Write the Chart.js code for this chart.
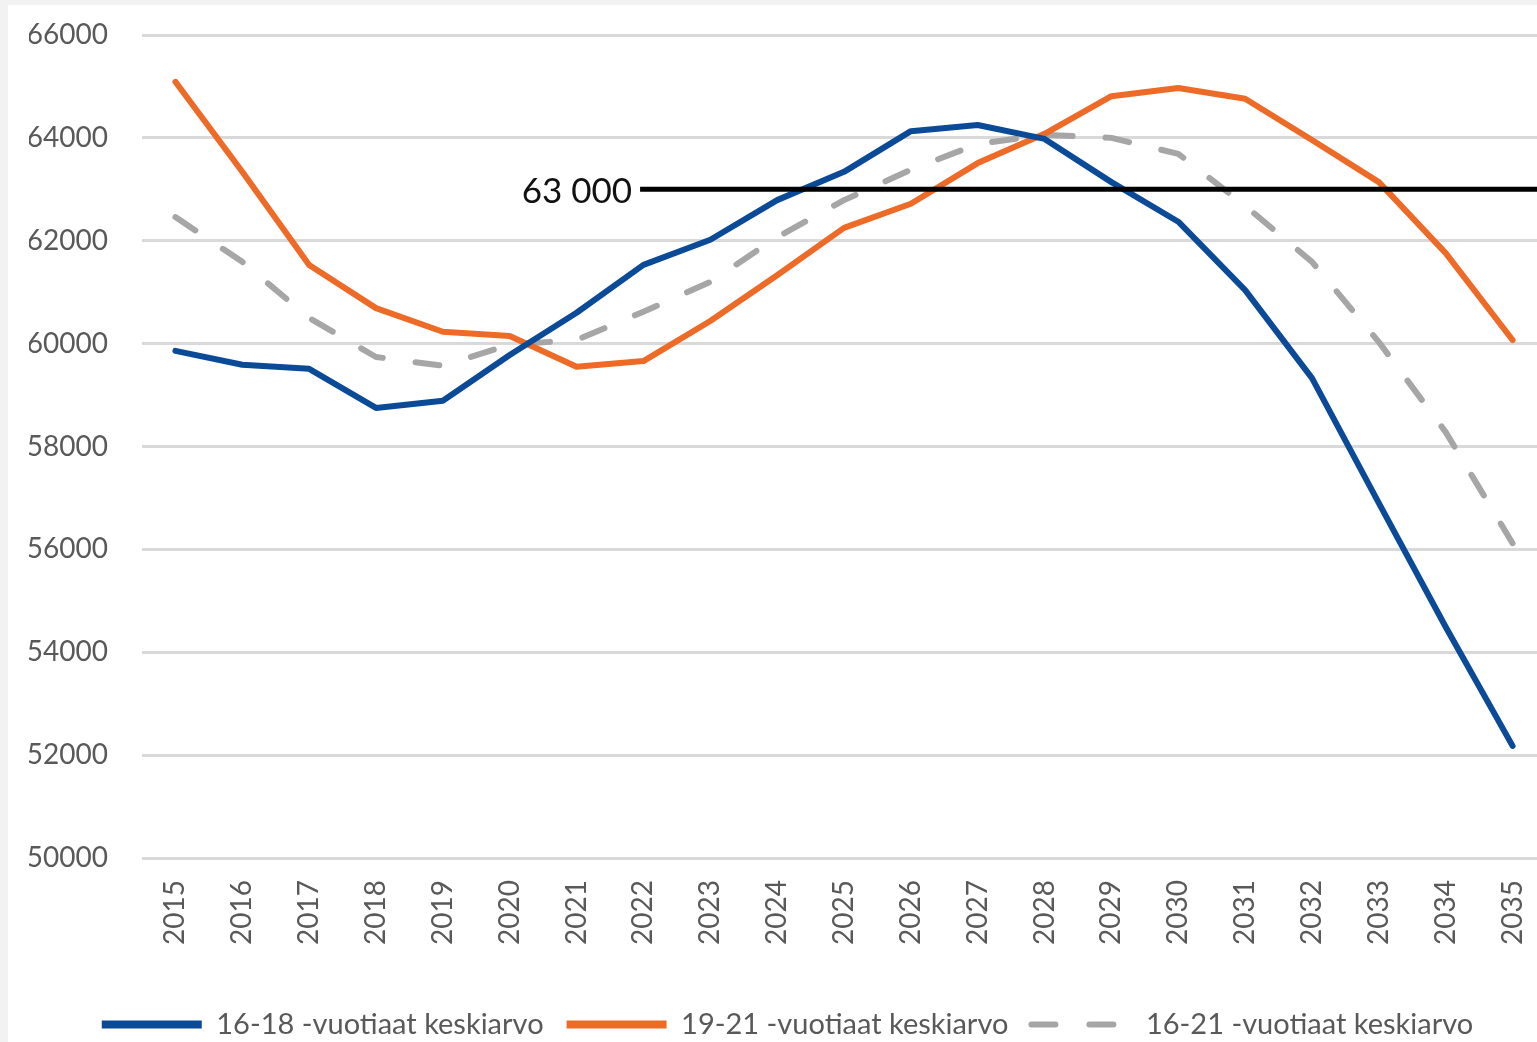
<!DOCTYPE html>
<html lang="fi">
<head>
  <meta charset="utf-8">
  <title>Ikäluokkien keskiarvot 2015–2035</title>
  <script src="https://cdn.jsdelivr.net/npm/chart.js"></script>
  <style>
    html, body { margin: 0; padding: 0; background: #f2f2f2; overflow: hidden; }
    #wrap { position: absolute; left: 8px; top: 5px; width: 1538px; height: 1050px; background: #fff; }
  </style>
</head>

<body>
  <div id="wrap">
    <canvas id="myChart"></canvas>
  </div>
  <script>
    const years = ['2015', '2016', '2017', '2018', '2019', '2020', '2021', '2022', '2023', '2024', '2025',
      '2026', '2027', '2028', '2029', '2030', '2031', '2032', '2033', '2034', '2035']

    const avg16to18 = [59860, 59590, 59510, 58750, 58890, 59780, 60600, 61530, 62020, 62790, 63340,
      64130, 64250, 63980, 63140, 62370, 61040, 59330, 56900, 54490, 52180]
    const avg19to21 = [65090, 63340, 61530, 60690, 60230, 60150, 59550, 59660, 60440, 61330, 62250,
      62720, 63510, 64080, 64810, 64970, 64760, 63960, 63140, 61760, 60070]
    const avg16to21 = [62460, 61590, 60500, 59740, 59570, 59980, 60070, 60620, 61200, 62070, 62790,
      63380, 63880, 64060, 64000, 63690, 62680, 61590, 60030, 58280, 56120]

    const yMin = 50000
    const yMax = 66000
    const yStep = 2000

    // horizontal target line and its label
    const targetValue = 63000
    const targetLabel = '63 000'

    Chart.defaults.font.family = 'Lato'
    Chart.defaults.color = '#595959'

    const targetLine = {
      id: 'targetLine',
      afterDatasetsDraw(chart) {
        const { ctx, scales: { x, y } } = chart
        const yPx = y.getPixelForValue(targetValue)
        const xStart = x.getPixelForValue(6.95)
        ctx.save()
        ctx.strokeStyle = '#000'
        ctx.lineWidth = 5
        ctx.beginPath()
        ctx.moveTo(xStart, yPx)
        ctx.lineTo(chart.width, yPx)
        ctx.stroke()
        ctx.fillStyle = '#111'
        ctx.font = '35px Lato'
        ctx.textAlign = 'right'
        ctx.textBaseline = 'middle'
        ctx.fillText(targetLabel, xStart - 8, yPx + 2)
        ctx.restore()
      }
    }

    function renderChart() {
      const ctx = document.getElementById('myChart')
      new Chart(ctx, {
        type: 'line',
        data: {
          labels: years,
          datasets: [{
            label: '16-18 -vuotiaat keskiarvo',
            data: avg16to18,
            borderColor: '#0a4a97',
            backgroundColor: '#0a4a97',
            borderWidth: 6,
            borderJoinStyle: 'round',
            borderCapStyle: 'round',
            pointRadius: 0,
            tension: 0
          },
          {
            label: '19-21 -vuotiaat keskiarvo',
            data: avg19to21,
            borderColor: '#ed6a27',
            backgroundColor: '#ed6a27',
            borderWidth: 6,
            borderJoinStyle: 'round',
            borderCapStyle: 'round',
            pointRadius: 0,
            tension: 0
          },
          {
            label: '16-21 -vuotiaat keskiarvo',
            data: avg16to21,
            borderColor: '#a6a6a6',
            backgroundColor: '#a6a6a6',
            borderWidth: 6,
            borderDash: [24, 33],
            borderJoinStyle: 'round',
            borderCapStyle: 'round',
            pointRadius: 0,
            tension: 0
          }]
        },
        options: {
          responsive: true,
          maintainAspectRatio: false,
          animation: false,
          layout: { padding: { top: 30, right: 0, bottom: 6, left: 21 } },
          plugins: {
            tooltip: { enabled: false },
            legend: {
              position: 'bottom',
              labels: {
                usePointStyle: true,
                pointStyle: 'line',
                pointStyleWidth: 100,
                padding: 23,
                color: '#595959',
                font: { size: 29 },
                generateLabels(chart) {
                  const items = Chart.defaults.plugins.legend.labels.generateLabels(chart)
                  items.forEach((it, i) => {
                    const ds = chart.data.datasets[i]
                    it.lineWidth = ds.borderDash ? 6 : 8
                    it.lineDash = ds.borderDash ? [24, 34] : []
                    it.lineCap = ds.borderDash ? 'round' : 'butt'
                  })
                  return items
                }
              }
            }
          },
          scales: {
            x: {
              offset: true,
              grid: { display: false },
              border: { display: false },
              ticks: {
                minRotation: 90,
                maxRotation: 90,
                padding: 14,
                color: '#595959',
                font: { size: 28 }
              },
              afterFit(scale) {
                scale.height = 129
                scale.paddingLeft = 0
                scale.paddingRight = 0
              }
            },
            y: {
              min: yMin,
              max: yMax,
              grid: { color: '#d9d9d9', lineWidth: 3, drawTicks: false },
              border: { display: false },
              ticks: {
                stepSize: yStep,
                padding: 34,
                color: '#595959',
                font: { size: 28 },
                callback: value => String(value)
              },
              afterFit(scale) {
                scale.width = 113
                scale.paddingTop = 0
                scale.paddingBottom = 0
              }
            }
          }
        },
        plugins: [targetLine]
      })
    }
    window.onload = renderChart
  </script>
</body>

</html>
